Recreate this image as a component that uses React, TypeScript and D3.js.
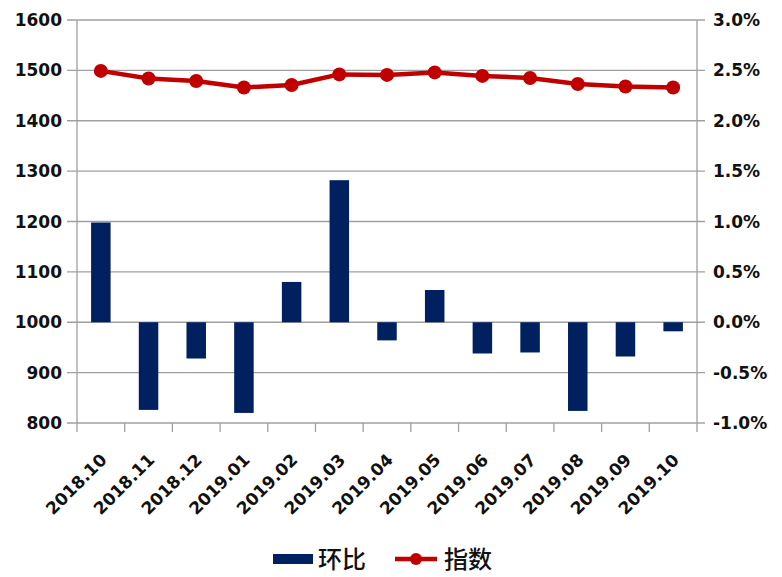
import React from "react";
import * as d3 from "d3";

const categories = ["2018.10", "2018.11", "2018.12", "2019.01", "2019.02", "2019.03", "2019.04", "2019.05", "2019.06", "2019.07", "2019.08", "2019.09", "2019.10"];
const indexValues = [1499, 1484, 1479, 1466, 1471, 1492, 1491, 1496, 1489, 1485, 1473, 1468, 1466];
const momValues = [0.99, -0.87, -0.36, -0.9, 0.4, 1.41, -0.18, 0.32, -0.31, -0.3, -0.88, -0.34, -0.09];
const leftTicks = [800, 900, 1000, 1100, 1200, 1300, 1400, 1500, 1600];
const rightTicks = [-1.0, -0.5, 0.0, 0.5, 1.0, 1.5, 2.0, 2.5, 3.0];
const seriesNames = ["环比", "指数"];

const W = 782, H = 577;
const L = 77, R = 697, T = 20, B = 423;
const barColor = "#002060";
const lineColor = "#C00000";
const gridColor = "#A0A0A0";
const tickFont = "'DejaVu Sans', sans-serif";

export default function App() {
  const x = d3.scaleBand<string>().domain(categories).range([L, R]).paddingInner(0).paddingOuter(0);
  const yL = d3.scaleLinear().domain([800, 1600]).range([B, T]);
  const yR = d3.scaleLinear().domain([-1, 3]).range([B, T]);
  const bw = 19.5;
  const line = d3.line<number>().x((_, i) => x(categories[i])! + x.bandwidth() / 2).y((d) => yL(d));
  const boundaries = categories.map((c) => x(c)!).concat([R]);

  return (
    <svg width={W} height={H} style={{ position: "absolute", left: 0, top: 0, background: "#fff" }}>
      {leftTicks.map((t) => (
        <line key={"g" + t} x1={L - 10} x2={R + 8} y1={yL(t)} y2={yL(t)} stroke={gridColor} strokeWidth={1.3} />
      ))}
      <line x1={L} x2={L} y1={T} y2={B} stroke={gridColor} strokeWidth={1.3} />
      <line x1={R} x2={R} y1={T} y2={B} stroke={gridColor} strokeWidth={1.3} />
      {boundaries.map((bx, i) => (
        <line key={"t" + i} x1={bx} x2={bx} y1={B} y2={B + 9} stroke={gridColor} strokeWidth={1.3} />
      ))}
      {leftTicks.map((t) => (
        <text key={"l" + t} x={62} y={yL(t)} dy="0.36em" textAnchor="end" fontFamily={tickFont} fontWeight="bold" fontSize={17} fill="#111">
          {t}
        </text>
      ))}
      {rightTicks.map((t) => (
        <text key={"r" + t} x={713} y={yR(t)} dy="0.36em" textAnchor="start" fontFamily={tickFont} fontWeight="bold" fontSize={17} fill="#111">
          {t.toFixed(1) + "%"}
        </text>
      ))}
      {momValues.map((v, i) => {
        const cx = x(categories[i])! + x.bandwidth() / 2;
        const y0 = yR(0), y1 = yR(v);
        return <rect key={"b" + i} x={cx - bw / 2} width={bw} y={Math.min(y0, y1)} height={Math.abs(y1 - y0)} fill={barColor} />;
      })}
      <path d={line(indexValues) || ""} fill="none" stroke={lineColor} strokeWidth={4.5} strokeLinejoin="round" />
      {indexValues.map((v, i) => (
        <circle key={"m" + i} cx={x(categories[i])! + x.bandwidth() / 2} cy={yL(v)} r={7} fill={lineColor} />
      ))}
      {categories.map((c) => {
        const ax = x(c)! + x.bandwidth() / 2 + 7;
        const ay = 461;
        return (
          <text key={"x" + c} x={ax} y={ay} transform={`rotate(-45 ${ax} ${ay})`} textAnchor="end" fontFamily={tickFont} fontWeight="bold" fontSize={17} fill="#111">
            {c}
          </text>
        );
      })}
      <rect x={273} y={554} width={40} height={10} fill={barColor} />
      <text x={318} y={559} dy="0.36em" fontFamily="'Noto Sans CJK SC', sans-serif" fontWeight={500} fontSize={24} fill="#111">{seriesNames[0]}</text>
      <line x1={395} x2={437} y1={559} y2={559} stroke={lineColor} strokeWidth={4.5} />
      <circle cx={416} cy={559} r={6} fill={lineColor} />
      <text x={444} y={559} dy="0.36em" fontFamily="'Noto Sans CJK SC', sans-serif" fontWeight={500} fontSize={24} fill="#111">{seriesNames[1]}</text>
    </svg>
  );
}
